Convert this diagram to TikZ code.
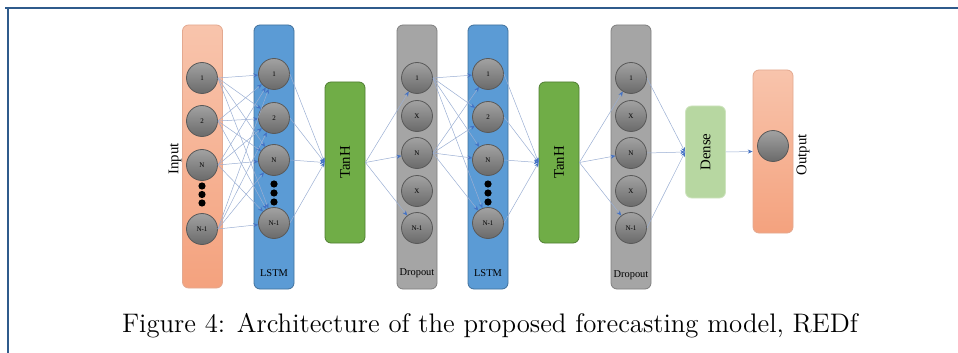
\documentclass[tikz,border=0pt]{standalone}
\usepackage{fontspec}
\newfontfamily\figfont{Liberation Serif}
\usetikzlibrary{arrows.meta}
\definecolor{peachtop}{HTML}{F8C4AC}
\definecolor{peachbot}{HTML}{F4A27E}
\definecolor{lstmblue}{HTML}{5B9BD5}
\definecolor{lstmedge}{HTML}{41719C}
\definecolor{tanhgreen}{HTML}{70AD47}
\definecolor{tanhedge}{HTML}{507E32}
\definecolor{dropgray}{HTML}{A5A5A5}
\definecolor{dropedge}{HTML}{7F7F7F}
\definecolor{densegreen}{HTML}{B7D7A1}
\definecolor{denseedge}{HTML}{CFE4C0}
\definecolor{celltop}{HTML}{A2A2A2}
\definecolor{cellbot}{HTML}{6A6A6A}
\definecolor{linkblue}{HTML}{9AAED3}
\definecolor{tipblue}{HTML}{4472C4}
\definecolor{framebl}{HTML}{2F5B8C}

\begin{document}
\begin{tikzpicture}[x=0.5pt,y=-0.5pt,
  layer/.style={rounded corners=3pt,minimum width=20pt,inner sep=0pt},
  inlayer/.style={layer,draw=peachbot!80!black!40!peachtop,top color=peachtop,bottom color=peachbot},
  lstmlayer/.style={layer,draw=lstmedge,fill=lstmblue,minimum height=132pt},
  droplayer/.style={layer,draw=dropedge,fill=dropgray,minimum height=132pt},
  tanhlayer/.style={layer,draw=tanhedge,fill=tanhgreen,minimum height=80.5pt},
  cell/.style={circle,draw=black!65,top color=celltop,bottom color=cellbot,minimum size=15.5pt,inner sep=0pt,font=\figfont\fontsize{3.5}{4}\selectfont},
  dotn/.style={circle,fill=black,minimum size=3.6pt,inner sep=0pt},
  lbl/.style={font=\figfont\fontsize{7.4}{8}\selectfont},
  smalllbl/.style={font=\figfont\fontsize{5.2}{6}\selectfont},
  link/.style={draw=linkblue,line width=0.25pt,-{Stealth[length=2.4pt,width=2pt,color=tipblue]}}]
\useasboundingbox (0,0) rectangle (958,353);

% page frame
\draw[framebl,line width=0.6pt] (5,8) -- (958,8);
\draw[framebl,line width=0.6pt] (8,8) -- (8,353);

% layers
\node[inlayer,minimum height=131.5pt] (inp) at (202.5,156.5) {};
\node[lstmlayer] (lstmA) at (274,157) {};
\node[tanhlayer] (tanhA) at (345,162.5) {};
\node[droplayer] (dropA) at (417,157) {};
\node[lstmlayer] (lstmB) at (488,157) {};
\node[tanhlayer] (tanhB) at (559,162.5) {};
\node[droplayer] (dropB) at (631,157) {};
\node[layer,draw=denseedge,fill=densegreen,minimum height=46pt] (dense) at (705.5,152) {};
\node[inlayer,minimum height=81.5pt] (outp) at (773,151.5) {};

% layer texts
\node[lbl,rotate=90] (inptxt) at (175,159) {Input};
\node[smalllbl] (lstmAtxt) at (274,273) {LSTM};
\node[lbl,rotate=90] (tanhAtxt) at (345,162.5) {TanH};
\node[smalllbl] (dropAtxt) at (417,273) {Dropout};
\node[smalllbl] (lstmBtxt) at (488,273) {LSTM};
\node[lbl,rotate=90] (tanhBtxt) at (559,162.5) {TanH};
\node[smalllbl] (dropBtxt) at (631,275) {Dropout};
\node[lbl,rotate=90] (densetxt) at (705.5,152) {Dense};
\node[lbl,rotate=90] (outptxt) at (803,155) {Output};

% input cells
\node[cell] (i1) at (202,78) {1};
\node[cell] (i2) at (202,121) {2};
\node[cell] (i3) at (202,165) {N};
\node[cell] (i4) at (202,229) {N-1};
\node[dotn] (idA) at (202,186) {};
\node[dotn] (idB) at (202,194.5) {};
\node[dotn] (idC) at (202,203) {};

% first lstm cells
\node[cell] (a1) at (274,74) {1};
\node[cell] (a2) at (274,118) {2};
\node[cell] (a3) at (274,160) {N};
\node[cell] (a4) at (274,223) {N-1};
\node[dotn] (adA) at (274,184) {};
\node[dotn] (adB) at (274,193) {};
\node[dotn] (adC) at (274,202) {};

% first dropout cells
\node[cell] (p1) at (417,78) {1};
\node[cell] (p2) at (417,116) {X};
\node[cell] (p3) at (417,153) {N};
\node[cell] (p4) at (417,191) {X};
\node[cell] (p5) at (417,228) {N-1};

% second lstm cells
\node[cell] (b1) at (488,74) {1};
\node[cell] (b2) at (488,117) {2};
\node[cell] (b3) at (488,160) {N};
\node[cell] (b4) at (488,223) {N-1};
\node[dotn] (bdA) at (488,184) {};
\node[dotn] (bdB) at (488,193) {};
\node[dotn] (bdC) at (488,202) {};

% second dropout cells
\node[cell] (q1) at (631,78) {1};
\node[cell] (q2) at (631,116) {X};
\node[cell] (q3) at (631,153) {N};
\node[cell] (q4) at (631,191) {X};
\node[cell] (q5) at (631,228) {N-1};

% output cell
\node[cell] (o1) at (773,146) {};

% input -> lstm
\draw (i1.east) edge[link] (a1) edge[link] (a2) edge[link] (a3) edge[link] (a4);
\draw (i2.east) edge[link] (a1) edge[link] (a2) edge[link] (a3) edge[link] (a4);
\draw (i3.east) edge[link] (a1) edge[link] (a2) edge[link] (a3) edge[link] (a4);
\draw (i4.east) edge[link] (a1) edge[link] (a2) edge[link] (a3) edge[link] (a4);

% lstm -> tanh -> dropout
\draw[link] (a1.east) -- (tanhA.west);
\draw[link] (a2.east) -- (tanhA.west);
\draw[link] (a3.east) -- (tanhA.west);
\draw[link] (a4.east) -- (tanhA.west);
\draw (tanhA.east) edge[link] (p1) edge[link] (p3) edge[link] (p5);

% dropout -> lstm
\draw (p1.east) edge[link] (b1) edge[link] (b2) edge[link] (b3) edge[link] (b4);
\draw (p3.east) edge[link] (b1) edge[link] (b2) edge[link] (b3) edge[link] (b4);

% lstm -> tanh -> dropout
\draw[link] (b1.east) -- (tanhB.west);
\draw[link] (b2.east) -- (tanhB.west);
\draw[link] (b3.east) -- (tanhB.west);
\draw[link] (b4.east) -- (tanhB.west);
\draw (tanhB.east) edge[link] (q1) edge[link] (q3) edge[link] (q5);

% dropout -> dense -> output
\draw[link] (q1.east) -- (dense.west);
\draw[link] (q3.east) -- (dense.west);
\draw[link] (q5.east) -- (dense.west);
\draw[link] (dense.east) -- (outp.west);

% caption
\node[font=\fontsize{13.4}{15}\selectfont,anchor=base] (cap) at (490,332) {Figure 4: Architecture of the proposed forecasting model, REDf};
\end{tikzpicture}
\end{document}
